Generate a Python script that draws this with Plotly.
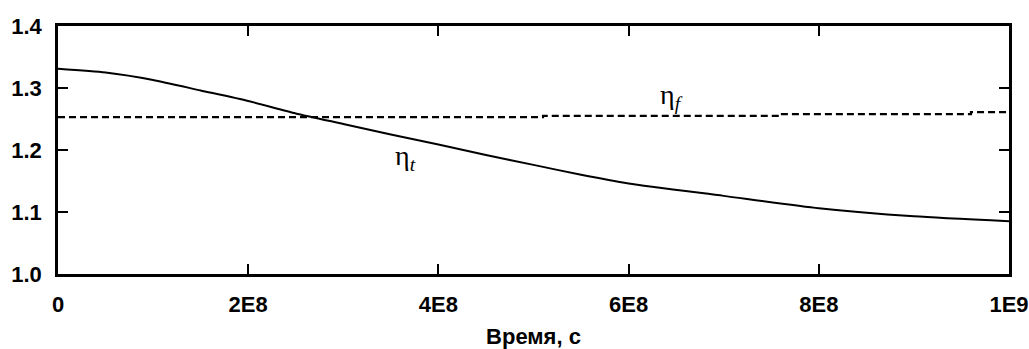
import plotly.graph_objects as go

# Time, s
t_eta_t = [0, 0.5e8, 1e8, 1.5e8, 2e8, 2.5e8, 3e8, 3.5e8, 4e8, 4.5e8, 5e8, 5.5e8, 6e8, 7e8, 8e8, 9e8, 1e9]
eta_t = [1.331, 1.325, 1.313, 1.296, 1.279, 1.259, 1.242, 1.225, 1.209, 1.192, 1.176, 1.160, 1.146, 1.126, 1.106, 1.093, 1.085]

t_eta_f = [0, 5.1e8, 5.1e8, 7.6e8, 7.6e8, 9.6e8, 9.6e8, 1e9]
eta_f = [1.253, 1.253, 1.255, 1.255, 1.258, 1.258, 1.261, 1.261]

x_ticks = [0, 2e8, 4e8, 6e8, 8e8, 1e9]
x_labels = ["0", "2E8", "4E8", "6E8", "8E8", "1E9"]
y_ticks = [1.0, 1.1, 1.2, 1.3, 1.4]
y_labels = ["1.0", "1.1", "1.2", "1.3", "1.4"]

fig = go.Figure()
fig.add_trace(go.Scatter(x=t_eta_t, y=eta_t, mode="lines", line=dict(color="black", width=2, shape="spline", smoothing=0.6), showlegend=False))
fig.add_trace(go.Scatter(x=t_eta_f, y=eta_f, mode="lines", line=dict(color="black", width=2.2, dash="7px,4px"), showlegend=False))

fig.add_annotation(x=6.45e8, y=1.286, text="η<sub><i>f</i></sub>", showarrow=False,
                   font=dict(family="Liberation Serif", size=28, color="black"))
fig.add_annotation(x=3.65e8, y=1.188, text="η<sub><i>t</i></sub>", showarrow=False,
                   font=dict(family="Liberation Serif", size=28, color="black"))

axis_font = dict(family="Liberation Sans", size=22, color="black", weight="bold")
fig.update_xaxes(range=[0, 1e9], tickvals=x_ticks, ticktext=x_labels, ticks="inside", ticklen=10,
                 tickwidth=2, tickcolor="black", showline=True, linecolor="black", linewidth=2.5,
                 mirror="ticks", showgrid=False, zeroline=False, tickfont=axis_font, automargin=False,
                 ticklabelstandoff=9,
                 title=dict(text="Время, с", font=dict(family="Liberation Sans", size=22, color="black", weight="bold"), standoff=17))
fig.update_yaxes(range=[1.0, 1.4], tickvals=y_ticks, ticktext=y_labels, ticks="inside", ticklen=10,
                 tickwidth=2, tickcolor="black", showline=True, linecolor="black", linewidth=2.5,
                 mirror="ticks", showgrid=False, zeroline=False, tickfont=axis_font, ticklabelstandoff=9,
                 automargin=False)

fig.update_layout(width=1029, height=349, margin=dict(l=58, r=20, t=26, b=75),
                  paper_bgcolor="white", plot_bgcolor="white")
fig.write_html("out.html", config={"displayModeBar": False},
               post_script="document.body.style.margin='0';document.body.style.overflow='hidden';")
